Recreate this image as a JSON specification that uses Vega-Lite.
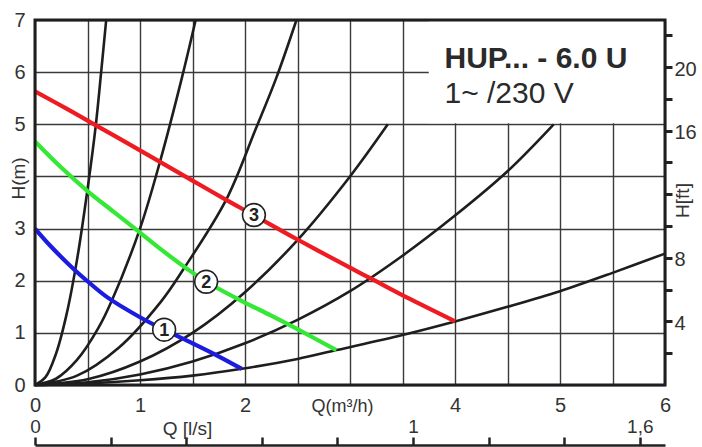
{
  "$schema": "https://vega.github.io/schema/vega-lite/v6.json",
  "width": 630,
  "height": 365,
  "autosize": {"type": "none"},
  "padding": {"left": 35, "top": 20, "right": 37, "bottom": 62},
  "background": "white",
  "config": {
    "view": {"stroke": null},
    "font": "Liberation Sans",
    "axis": {
      "labelFont": "Liberation Sans",
      "titleFont": "Liberation Sans",
      "labelColor": "#333333",
      "titleColor": "#333333",
      "titleFontWeight": "normal",
      "gridColor": "#3a3a3a",
      "gridWidth": 1.4,
      "labelFlush": false,
      "labelOverlap": false
    }
  },
  "datasets": {
    "system": [
      {"curve": "c1", "q": 0, "h": 0}, {"curve": "c1", "q": 0.1, "h": 0.15}, {"curve": "c1", "q": 0.2, "h": 0.6}, {"curve": "c1", "q": 0.3, "h": 1.35}, {"curve": "c1", "q": 0.4, "h": 2.4}, {"curve": "c1", "q": 0.5, "h": 3.75}, {"curve": "c1", "q": 0.58, "h": 5.0}, {"curve": "c1", "q": 0.63, "h": 6.0}, {"curve": "c1", "q": 0.678, "h": 7.0},
      {"curve": "c2", "q": 0, "h": 0}, {"curve": "c2", "q": 0.2, "h": 0.12}, {"curve": "c2", "q": 0.4, "h": 0.48}, {"curve": "c2", "q": 0.6, "h": 1.08}, {"curve": "c2", "q": 0.73, "h": 1.61}, {"curve": "c2", "q": 1.0, "h": 3.0}, {"curve": "c2", "q": 1.19, "h": 4.28}, {"curve": "c2", "q": 1.4, "h": 5.9}, {"curve": "c2", "q": 1.53, "h": 7.0},
      {"curve": "c3", "q": 0, "h": 0}, {"curve": "c3", "q": 0.4, "h": 0.18}, {"curve": "c3", "q": 0.8, "h": 0.72}, {"curve": "c3", "q": 1.2, "h": 1.6}, {"curve": "c3", "q": 1.41, "h": 2.21}, {"curve": "c3", "q": 1.82, "h": 3.55}, {"curve": "c3", "q": 2.1, "h": 4.9}, {"curve": "c3", "q": 2.3, "h": 5.9}, {"curve": "c3", "q": 2.49, "h": 7.0},
      {"curve": "c4", "q": 0, "h": 0}, {"curve": "c4", "q": 0.5, "h": 0.11}, {"curve": "c4", "q": 1.0, "h": 0.45}, {"curve": "c4", "q": 1.5, "h": 1.0}, {"curve": "c4", "q": 2.0, "h": 1.78}, {"curve": "c4", "q": 2.5, "h": 2.78}, {"curve": "c4", "q": 3.0, "h": 4.0}, {"curve": "c4", "q": 3.36, "h": 5.0},
      {"curve": "c5", "q": 0, "h": 0}, {"curve": "c5", "q": 0.5, "h": 0.05}, {"curve": "c5", "q": 1.0, "h": 0.2}, {"curve": "c5", "q": 1.5, "h": 0.45}, {"curve": "c5", "q": 2.0, "h": 0.8}, {"curve": "c5", "q": 2.5, "h": 1.25}, {"curve": "c5", "q": 3.0, "h": 1.8}, {"curve": "c5", "q": 3.5, "h": 2.48}, {"curve": "c5", "q": 4.0, "h": 3.25}, {"curve": "c5", "q": 4.5, "h": 4.1}, {"curve": "c5", "q": 4.94, "h": 5.0},
      {"curve": "c6", "q": 0, "h": 0}, {"curve": "c6", "q": 0.5, "h": 0.03}, {"curve": "c6", "q": 1.0, "h": 0.09}, {"curve": "c6", "q": 1.5, "h": 0.18}, {"curve": "c6", "q": 1.97, "h": 0.31}, {"curve": "c6", "q": 2.5, "h": 0.5}, {"curve": "c6", "q": 2.87, "h": 0.67}, {"curve": "c6", "q": 3.5, "h": 0.96}, {"curve": "c6", "q": 4.0, "h": 1.22}, {"curve": "c6", "q": 4.5, "h": 1.5}, {"curve": "c6", "q": 5.0, "h": 1.8}, {"curve": "c6", "q": 5.5, "h": 2.15}, {"curve": "c6", "q": 6.0, "h": 2.52}
    ],
    "pump": [
      {"pump": "1", "q": 0, "h": 3.0}, {"pump": "1", "q": 0.15, "h": 2.66}, {"pump": "1", "q": 0.37, "h": 2.22}, {"pump": "1", "q": 0.5, "h": 1.99}, {"pump": "1", "q": 0.69, "h": 1.68}, {"pump": "1", "q": 1.0, "h": 1.3}, {"pump": "1", "q": 1.23, "h": 1.06}, {"pump": "1", "q": 1.5, "h": 0.8}, {"pump": "1", "q": 1.73, "h": 0.57}, {"pump": "1", "q": 1.97, "h": 0.31},
      {"pump": "2", "q": 0, "h": 4.67}, {"pump": "2", "q": 0.25, "h": 4.17}, {"pump": "2", "q": 0.5, "h": 3.72}, {"pump": "2", "q": 0.75, "h": 3.32}, {"pump": "2", "q": 0.97, "h": 2.97}, {"pump": "2", "q": 1.2, "h": 2.6}, {"pump": "2", "q": 1.44, "h": 2.24}, {"pump": "2", "q": 1.63, "h": 1.98}, {"pump": "2", "q": 1.98, "h": 1.6}, {"pump": "2", "q": 2.25, "h": 1.33}, {"pump": "2", "q": 2.49, "h": 1.08}, {"pump": "2", "q": 2.87, "h": 0.67},
      {"pump": "3", "q": 0, "h": 5.63}, {"pump": "3", "q": 0.3, "h": 5.3}, {"pump": "3", "q": 0.58, "h": 4.98}, {"pump": "3", "q": 1.0, "h": 4.5}, {"pump": "3", "q": 1.19, "h": 4.28}, {"pump": "3", "q": 1.5, "h": 3.92}, {"pump": "3", "q": 1.82, "h": 3.55}, {"pump": "3", "q": 2.09, "h": 3.25}, {"pump": "3", "q": 2.5, "h": 2.79}, {"pump": "3", "q": 3.0, "h": 2.25}, {"pump": "3", "q": 3.22, "h": 2.02}, {"pump": "3", "q": 3.58, "h": 1.64}, {"pump": "3", "q": 4.0, "h": 1.22}
    ],
    "markers": [
      {"n": "1", "q": 1.23, "h": 1.06},
      {"n": "2", "q": 1.63, "h": 1.98},
      {"n": "3", "q": 2.085, "h": 3.26}
    ],
    "box": [{"q": 3.75, "q2": 6, "h": 5.02, "h2": 7}],
    "frame": [{"q": 0, "q2": 6, "h": 0, "h2": 7}],
    "title1": [{"q": 3.9, "h": 6.08, "t": "HUP... - 6.0 U"}],
    "title2": [{"q": 3.9, "h": 5.41, "t": "1~ /230 V"}],
    "axes2": [{"ls": 0, "ft": 0}, {"ls": 1.666667, "ft": 22.96588}]
  },
  "layer": [
    {
      "layer": [
        {
          "data": {"name": "box"},
          "mark": {"type": "rect", "fill": "white", "strokeWidth": 0},
          "encoding": {
            "x": {"field": "q", "type": "quantitative", "scale": {"domain": [0, 6], "nice": false, "zero": false},
              "axis": {"values": [0, 0.5, 1, 1.5, 2, 2.5, 3, 3.5, 4, 4.5, 5, 5.5, 6], "labelExpr": "(datum.value % 1 != 0 || datum.value == 3) ? '' : format(datum.value, 'd')", "grid": true, "domain": false, "ticks": false, "tickSize": 0, "labelPadding": 10, "labelFontSize": 20, "title": "Q(m³/h)", "titleX": 307, "titleY": 26, "titleAlign": "center", "titleBaseline": "alphabetic", "titleFontSize": 18}},
            "x2": {"field": "q2"},
            "y": {"field": "h", "type": "quantitative", "scale": {"domain": [0, 7], "nice": false, "zero": false},
              "axis": {"values": [0, 1, 2, 3, 4, 5, 6, 7], "labelExpr": "datum.value == 4 ? '' : format(datum.value, 'd')", "grid": true, "domain": false, "ticks": false, "tickSize": 0, "labelPadding": 10, "labelFontSize": 20, "title": "H(m)", "titleX": -17, "titleY": 158, "titleAngle": 270, "titleAlign": "center", "titleBaseline": "middle", "titleFontSize": 19}},
            "y2": {"field": "h2"}
          }
        },
        {
          "data": {"name": "system"},
          "mark": {"type": "line", "color": "#1e1e1e", "strokeWidth": 2.6, "interpolate": "catmull-rom"},
          "encoding": {
            "x": {"field": "q", "type": "quantitative"},
            "y": {"field": "h", "type": "quantitative"},
            "detail": {"field": "curve"}
          }
        },
        {
          "data": {"name": "pump"},
          "mark": {"type": "line", "strokeWidth": 4.2, "interpolate": "catmull-rom"},
          "encoding": {
            "x": {"field": "q", "type": "quantitative"},
            "y": {"field": "h", "type": "quantitative"},
            "color": {"field": "pump", "type": "nominal", "scale": {"domain": ["1", "2", "3"], "range": ["#1c1ce0", "#35e835", "#ee1c22"]}, "legend": null}
          }
        },
        {
          "data": {"name": "frame"},
          "mark": {"type": "rect", "fillOpacity": 0, "stroke": "#1e1e1e", "strokeWidth": 3},
          "encoding": {
            "x": {"field": "q", "type": "quantitative"},
            "x2": {"field": "q2"},
            "y": {"field": "h", "type": "quantitative"},
            "y2": {"field": "h2"}
          }
        },
        {
          "data": {"name": "markers"},
          "mark": {"type": "point", "filled": true, "fill": "white", "stroke": "#222222", "strokeWidth": 1.6, "size": 520, "opacity": 1},
          "encoding": {
            "x": {"field": "q", "type": "quantitative"},
            "y": {"field": "h", "type": "quantitative"}
          }
        },
        {
          "data": {"name": "markers"},
          "mark": {"type": "text", "font": "Liberation Sans", "fontWeight": "bold", "fontSize": 18, "color": "#222222", "align": "center", "baseline": "middle", "dy": 1},
          "encoding": {
            "x": {"field": "q", "type": "quantitative"},
            "y": {"field": "h", "type": "quantitative"},
            "text": {"field": "n"}
          }
        },
        {
          "data": {"name": "title1"},
          "mark": {"type": "text", "font": "Liberation Sans", "fontWeight": "bold", "fontSize": 30, "color": "#2a2a2a", "align": "left", "baseline": "alphabetic"},
          "encoding": {
            "x": {"field": "q", "type": "quantitative"},
            "y": {"field": "h", "type": "quantitative"},
            "text": {"field": "t"}
          }
        },
        {
          "data": {"name": "title2"},
          "mark": {"type": "text", "font": "Liberation Sans", "fontSize": 30, "color": "#2a2a2a", "align": "left", "baseline": "alphabetic"},
          "encoding": {
            "x": {"field": "q", "type": "quantitative"},
            "y": {"field": "h", "type": "quantitative"},
            "text": {"field": "t"}
          }
        }
      ]
    },
    {
      "data": {"name": "axes2"},
      "mark": {"type": "point", "opacity": 0},
      "encoding": {
        "x": {"field": "ls", "type": "quantitative", "scale": {"domain": [0, 1.666667], "nice": false, "zero": false},
          "axis": {"orient": "top", "offset": -425, "values": [0, 0.2, 0.4, 0.6, 0.8, 1, 1.2, 1.4, 1.6], "labelExpr": "datum.value == 0 ? '0' : (datum.value == 1 ? '1' : (abs(datum.value - 1.6) < 0.01 ? '1,6' : ''))", "grid": false, "domain": true, "domainColor": "#222222", "domainWidth": 2.5, "ticks": true, "tickSize": 8, "tickWidth": 2.5, "tickColor": "#222222", "labelPadding": 1, "labelFontSize": 19, "title": "Q [l/s]", "titleX": 152, "titleY": -17, "titleAlign": "center", "titleBaseline": "middle", "titleFontSize": 19}},
        "y": {"field": "ft", "type": "quantitative", "scale": {"domain": [0, 22.96588], "nice": false, "zero": false},
          "axis": {"orient": "right", "values": [2, 4, 6, 8, 10, 12, 14, 16, 18, 20, 22], "labelExpr": "(datum.value == 4 || datum.value == 8 || datum.value == 16 || datum.value == 20) ? datum.label : ''", "grid": false, "domain": false, "ticks": true, "tickSize": 7, "tickWidth": 3, "tickColor": "#222222", "labelPadding": 2, "labelOffset": 2, "labelFontSize": 20, "title": "H[ft]", "titleX": 17, "titleY": 180, "titleAngle": 270, "titleAlign": "center", "titleBaseline": "middle", "titleFontSize": 19}}
      }
    }
  ],
  "resolve": {"scale": {"x": "independent", "y": "independent"}}
}
